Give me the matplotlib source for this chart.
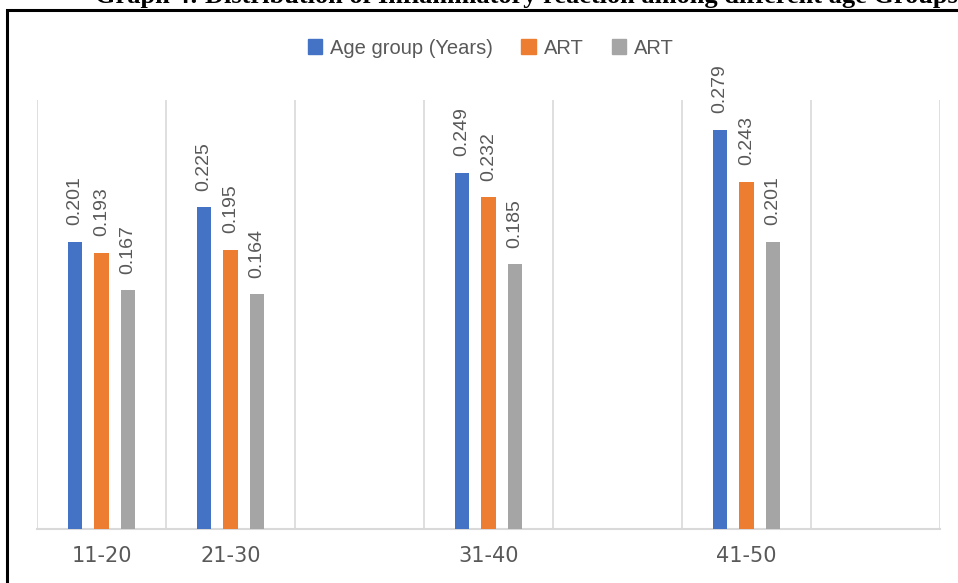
import numpy as np
import matplotlib.pyplot as plt
from matplotlib.patches import Rectangle, Patch

# data
categories = ["11-20", "21-30", "", "31-40", "", "41-50", ""]
age_group = [0.201, 0.225, None, 0.249, None, 0.279, None]
art_1 = [0.193, 0.195, None, 0.232, None, 0.243, None]
art_2 = [0.167, 0.164, None, 0.185, None, 0.201, None]
series_names = ["Age group (Years)", "ART", "ART"]
colors = ["#4472C4", "#ED7D31", "#A5A5A5"]

txt_color = "#595959"
grid_color = "#D9D9D9"

fig = plt.figure(figsize=(9.58, 5.83), dpi=100)
ax = fig.add_axes([37/958, 1 - 529/583, (940-37)/958, (529-100)/583])

x = np.arange(len(categories))
width = 0.11
offsets = [-0.205, 0.0, 0.205]

for vals, off, col, name in zip([age_group, art_1, art_2], offsets, colors, series_names):
    xs = [xi + off for xi, v in zip(x, vals) if v is not None]
    ys = [v for v in vals if v is not None]
    bars = ax.bar(xs, ys, width=width, color=col, label=name, zorder=3)
    for b, v in zip(bars, ys):
        ax.annotate(f"{v:.3f}", (b.get_x() + b.get_width()/2, v),
                    xytext=(0, 12), textcoords="offset points",
                    rotation=90, ha="center", va="bottom",
                    fontsize=14, family="Liberation Sans", color=txt_color)

ax.set_xlim(-0.5, len(categories) - 0.5)
ax.set_ylim(0, 0.3)
ax.set_xticks(x)
ax.set_xticklabels(categories, fontsize=15, color=txt_color)
ax.set_xticks(np.arange(-0.5, len(categories)), minor=True)
ax.tick_params(axis="x", which="both", length=0, pad=12)
ax.set_yticks([])
ax.grid(which="minor", axis="x", color=grid_color, lw=1.2, zorder=0)
for s in ["top", "left", "right"]:
    ax.spines[s].set_visible(False)
ax.spines["bottom"].set_color(grid_color)
ax.spines["bottom"].set_linewidth(1.5)

handles = [Patch(color=c) for c in colors]
fig.legend(handles, series_names, loc="center", ncol=3,
           bbox_to_anchor=(491/958, 1 - 48/583), frameon=False,
           handlelength=0.7, handleheight=0.7, handletextpad=0.4,
           columnspacing=1.4, prop={"family": "Liberation Sans", "size": 14.5},
           labelcolor=txt_color)

# outer frame and clipped title from the source document
fig.patches.append(Rectangle((7/958, -0.1), 1.2, 1.1 - 10/583,
                             transform=fig.transFigure, fill=False,
                             edgecolor="black", lw=2.2))
fig.text(95/958, 1 - 3/583, "Graph 4: Distribution of Inflammatory reaction among different age Groups",
         fontsize=19, family="Liberation Serif", weight="bold", va="baseline", ha="left")

fig.savefig("out.png", dpi=100)
